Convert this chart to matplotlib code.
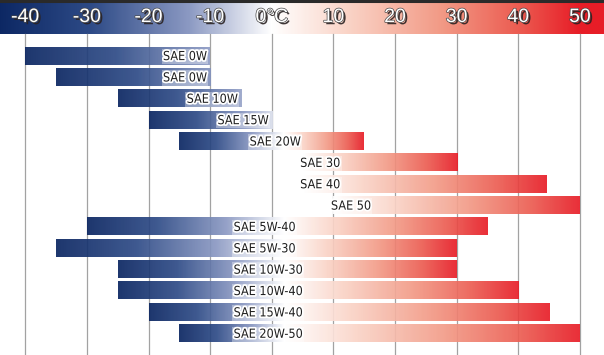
import numpy as np
import matplotlib
matplotlib.use('Agg')
import matplotlib.pyplot as plt
import matplotlib.patheffects as pe
from matplotlib import font_manager as fm
from matplotlib.colors import LinearSegmentedColormap

# temperature ranges per oil grade (deg C)
grades = ['SAE 0W', 'SAE 0W', 'SAE 10W', 'SAE 15W', 'SAE 20W', 'SAE 30', 'SAE 40',
          'SAE 50', 'SAE 5W-40', 'SAE 5W-30', 'SAE 10W-30', 'SAE 10W-40',
          'SAE 15W-40', 'SAE 20W-50']
t_low = [-40, -35, -25, -20, -15, 5, 5, 10, -30, -35, -25, -25, -20, -15]
t_high = [-10, -10, -5, 0, 15, 30, 44.5, 50, 35, 30, 30, 40, 45, 50]

scale_temps = [-40, -30, -20, -10, 0, 10, 20, 30, 40, 50]
scale_labels = ['-40', '-30', '-20', '-10', '0°C', '10', '20', '30', '40', '50']

blue = LinearSegmentedColormap.from_list(
    'cold', [(0, '#0a2561'), (0.35, '#2d4a86'), (0.7, '#8a98c2'), (1, '#ffffff')])
red = LinearSegmentedColormap.from_list(
    'warm', [(0, '#ffffff'), (0.25, '#fad3c6'), (0.55, '#f29a86'),
             (0.8, '#ec5d52'), (1, '#e71d27')])

WHITE_T = 2.0
XMIN, XMAX = -44.1, 53.9
YTOP, YBOT = -2.62, 14.0
HEAD_BOT = -1.03
HALF = 0.40


def pick_narrow():
    # look for a condensed sans face, fall back to a plain one
    fonts = fm.fontManager.ttflist
    for f in fonts:
        if f.name == 'Liberation Sans Narrow' and f.weight in (400, 'normal') and f.style == 'normal':
            return fm.FontProperties(fname=f.fname), 1.0
    for f in fonts:
        if f.name in ('DejaVu Sans', 'Roboto', 'Open Sans', 'Noto Sans') and \
                'condensed' in str(f.stretch) and f.style == 'normal' and f.weight in (400, 'normal'):
            return fm.FontProperties(fname=f.fname), 0.97
    return fm.FontProperties(family=['Liberation Sans', 'DejaVu Sans']), 0.95


label_font, label_scale = pick_narrow()


def bar_colors(lo, hi, n=300):
    t = np.linspace(lo, hi, n)
    rgba = np.zeros((n, 4))
    for i, v in enumerate(t):
        if v < WHITE_T:
            f = (v - lo) / (WHITE_T - lo)
            rgba[i] = blue(f)
        else:
            start = max(lo, WHITE_T)
            f = (v - start) / (hi - start) if hi > start else 0
            rgba[i] = red(f)
    return rgba[np.newaxis, :, :]


fig = plt.figure(figsize=(6.04, 3.55), dpi=100)
ax = fig.add_axes([0, 0, 1, 1])
ax.set_xlim(XMIN, XMAX)
ax.set_ylim(YBOT, YTOP)
ax.axis('off')

# header band
t = np.linspace(XMIN, XMAX, 600)
head = np.zeros((600, 4))
for i, v in enumerate(t):
    if v < 0:
        head[i] = blue((v - XMIN) / (0 - XMIN) * 0.97 + 0.03)
    else:
        head[i] = red(min(v / 50.0, 1.0))
ax.imshow(head[np.newaxis, :, :], extent=[XMIN, XMAX, HEAD_BOT, YTOP],
          aspect='auto', interpolation='bilinear', zorder=1)
ax.plot([XMIN, XMAX], [YTOP + 0.04, YTOP + 0.04], color='#2a2a2a', lw=2.2, zorder=2)

for v, s in zip(scale_temps, scale_labels):
    ax.text(v, -1.80, s, ha='center', va='center', color='white', fontsize=14,
            family=['Liberation Sans', 'DejaVu Sans'], zorder=3,
            path_effects=[pe.SimplePatchShadow(offset=(1.6, -1.6), shadow_rgbFace='#2a2222', alpha=0.9),
                          pe.Stroke(linewidth=1.0, foreground='#4a4a4a'), pe.Normal()])

# grid lines
for v in scale_temps:
    ax.plot([v, v], [HEAD_BOT, YBOT], color='#a2a2a2', lw=0.9, zorder=1)

# bars
for i, (name, lo, hi) in enumerate(zip(grades, t_low, t_high)):
    ax.imshow(bar_colors(lo, hi), extent=[lo, hi, i + HALF, i - HALF],
              aspect='auto', interpolation='bilinear', alpha=0.92, zorder=2)
    if hi <= 0:
        x, ha = hi - 0.5, 'right'
    elif lo >= 0:
        x, ha = lo - 0.4, 'left'
    elif '-' in name:
        x, ha = -6.2, 'left'
    else:
        x, ha = -3.6, 'left'
    ax.text(x, i + 0.03, name, ha=ha, va='center', fontsize=9.3 * label_scale,
            color='#1e1e1e', fontproperties=label_font, zorder=4,
            path_effects=[pe.withStroke(linewidth=2.5, foreground='white')],
            bbox=dict(boxstyle='square,pad=0.1', fc='white', ec='none', alpha=0.35))

ax.set_xlim(XMIN, XMAX)
ax.set_ylim(YBOT, YTOP)
fig.savefig('out.png', dpi=100)
